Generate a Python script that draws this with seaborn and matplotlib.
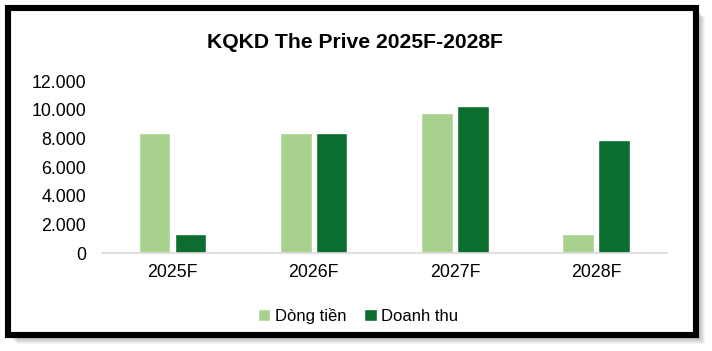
import numpy as np
import pandas as pd
import seaborn as sns
import matplotlib.pyplot as plt
from matplotlib.patches import Rectangle
from matplotlib.ticker import FuncFormatter

W, H, DPI = 712, 351, 100

years = ["2025F", "2026F", "2027F", "2028F"]
dong_tien = [8350, 8350, 9750, 1350]
doanh_thu = [1350, 8350, 10250, 7880]
series = ["Dòng tiền", "Doanh thu"]
colors = ["#a9d18e", "#0b6e2e"]

df = pd.DataFrame({
    "year": years * 2,
    "value": dong_tien + doanh_thu,
    "series": [series[0]] * len(years) + [series[1]] * len(years),
})

sns.set_style("white")
plt.rcParams["font.family"] = ["Liberation Sans", "DejaVu Sans"]
plt.rcParams["text.color"] = "black"
plt.rcParams["xtick.color"] = "black"
plt.rcParams["ytick.color"] = "black"

fig = plt.figure(figsize=(W / DPI, H / DPI), dpi=DPI)
ax = fig.add_axes([102 / W, 1 - 253.3 / H, (666.7 - 102) / W, (253.3 - 81) / H])
ax.patch.set_visible(False)

sns.barplot(data=df, x="year", y="value", hue="series", palette=colors,
            width=0.507, gap=0.12, ax=ax, saturation=1)

ax.set_ylim(0, 12000)
ax.set_xlim(-0.5, 3.5)
ax.set_yticks(np.arange(0, 12001, 2000))
ax.yaxis.set_major_formatter(FuncFormatter(lambda v, p: f"{int(v):,}".replace(",", ".")))
ax.set_xlabel("")
ax.set_ylabel("")
for s in ["top", "right", "left"]:
    ax.spines[s].set_visible(False)
ax.spines["bottom"].set_color("#d9d9d9")
ax.spines["bottom"].set_linewidth(1.2)
ax.tick_params(axis="y", length=0, labelsize=12.8, pad=11.5)
ax.tick_params(axis="x", length=0, labelsize=12.8, pad=8)

ax.legend(loc="center", bbox_to_anchor=(358 / W, 1 - 316 / H),
          bbox_transform=fig.transFigure, ncol=2, frameon=False,
          fontsize=12, handlelength=0.75, handleheight=0.75,
          handletextpad=0.25, columnspacing=1.1)

fig.text(355 / W, 1 - 42 / H, "KQKD The Prive 2025F-2028F", ha="center",
         va="center", fontsize=15.2, fontweight="bold")

# soft drop shadow, white card, black frame
x0, y0, x1, y1 = 8, 7.5, 696, 335.3
for k in range(1, 10):
    fig.patches.append(Rectangle(((x0 + k) / W, 1 - (y1 + k) / H),
                                 (x1 - x0) / W, (y1 - y0) / H,
                                 transform=fig.transFigure, facecolor="black",
                                 edgecolor="none", alpha=0.045, zorder=-3))
fig.patches.append(Rectangle((x0 / W, 1 - y1 / H), (x1 - x0) / W, (y1 - y0) / H,
                             transform=fig.transFigure, facecolor="white",
                             edgecolor="black", linewidth=4.4, zorder=-2))

fig.savefig("out.png", dpi=DPI)
